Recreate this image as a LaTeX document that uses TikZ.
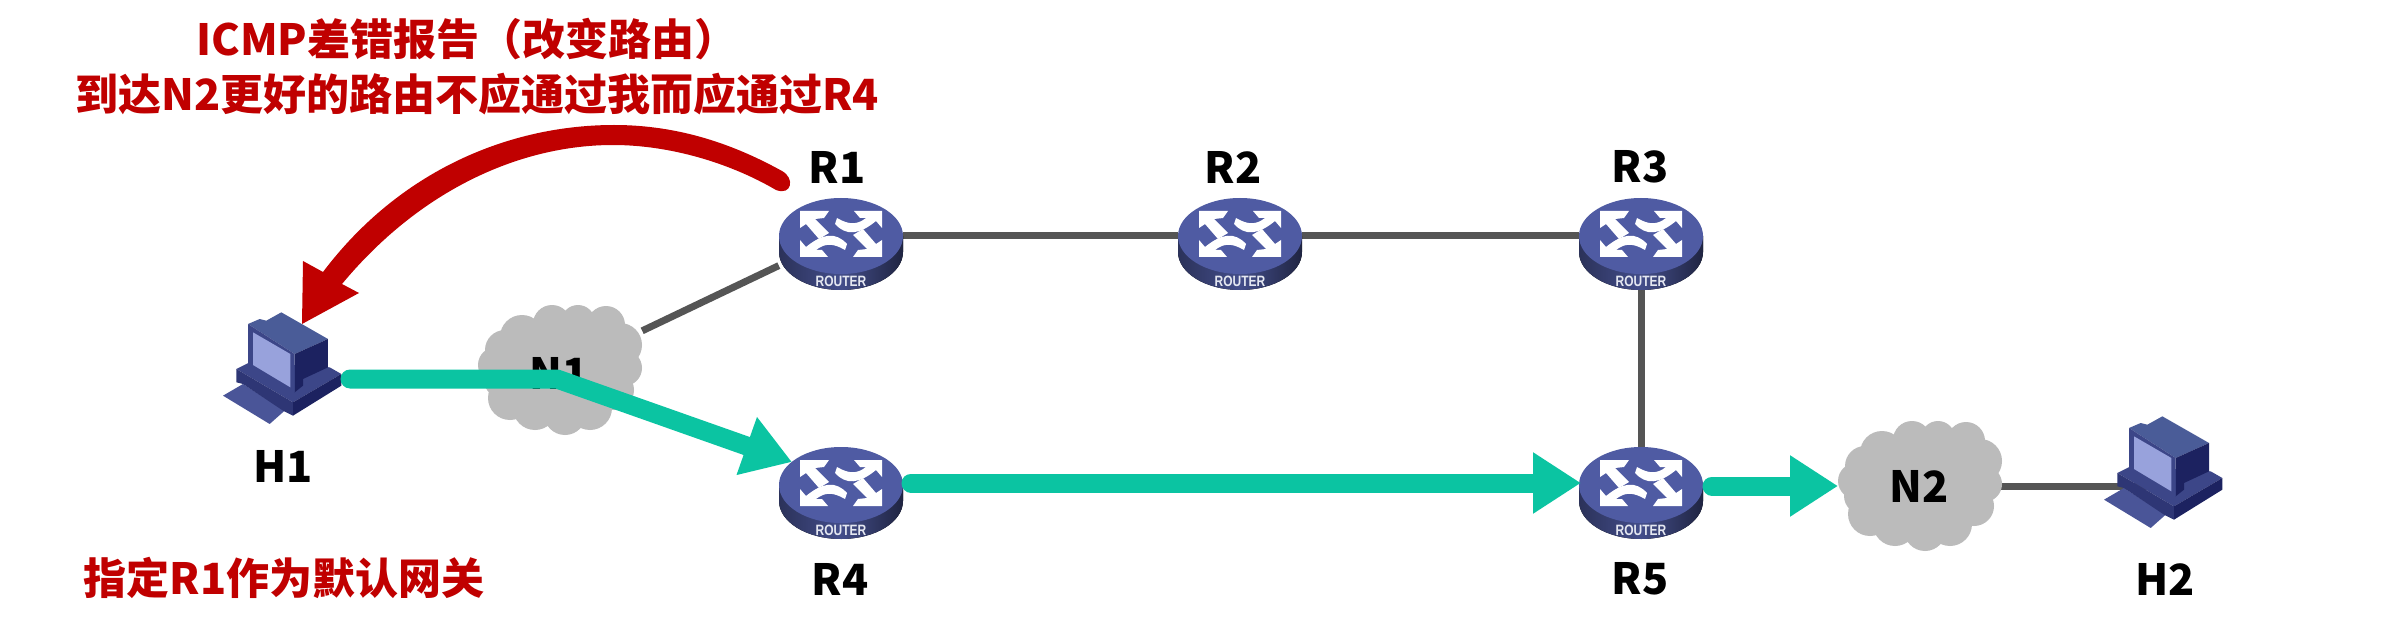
\documentclass[tikz,border=0pt]{standalone}
\usepackage{fontspec}
\setmainfont{Noto Sans CJK SC}
\newfontfamily\routerfont{Liberation Sans}
\usetikzlibrary{arrows.meta}
\definecolor{wire}{HTML}{555555}
\definecolor{flow}{HTML}{0BC4A2}
\definecolor{alert}{HTML}{C00000}
\definecolor{cloudgray}{HTML}{BBBBBB}
\definecolor{rtop}{HTML}{4F5BA3}
\tikzset{
  routerbox/.style={rectangle,inner sep=0pt,minimum width=124pt,minimum height=76pt},
  hostbox/.style={rectangle,inner sep=0pt,minimum width=120pt,minimum height=112pt},
  cloudbox/.style={rectangle,inner sep=0pt,minimum width=164pt,minimum height=130pt},
  devlabel/.style={font=\fontsize{43}{43}\selectfont\bfseries,inner sep=0pt,text=black},
  redlabel/.style={font=\fontsize{43}{43}\selectfont\bfseries,inner sep=0pt,text=alert},
  wireline/.style={draw=wire,line width=7pt},
  flowline/.style={draw=flow,line width=19pt,line cap=round,line join=round,-{Triangle[length=48pt,width=58pt]}},
  router/.pic={
    \fill[left color=rtop!55!black,right color=rtop!40!black,middle color=rtop!85!black]
      (-62,0) -- (-62,16) arc[start angle=180,end angle=0,x radius=62,y radius=38] -- (62,0) -- cycle;
    \fill[rtop] (0,0) ellipse[x radius=62,y radius=38];
    \foreach \r in {0,180}{
      \begin{scope}[rotate around={\r:(0,-2)}]
        \fill[white] (-41,-25) -- (-12,-25) -- (-17,-18) -- (-26,-17) -- (-12,-3) -- (-22,3) -- (-35,-12) -- (-41,-8) -- cycle;
        \fill[white] (41,-25) -- (13,-25) -- (19,-18) -- (25,-18) .. controls (16,-11) and (8,-11) .. (-4,-18) -- (-6,-12) .. controls (5,0) and (18,-1) .. (35,-15) -- (41,-8) -- cycle;
      \end{scope}
    }
    \node[text=white!85!rtop,inner sep=0pt,xscale=.8,font=\routerfont\fontsize{15}{15}\selectfont\bfseries] at (0,45) {ROUTER};
  },
  host/.pic={
    \begin{scope}[x=.3333pt,y=-.3333pt,shift={(-250,-270)}]
      \fill[fill=hostkey] (70,350) -- (130,315) -- (255,395) -- (210,435) -- cycle;
      \fill[fill=hostbase] (110,270) -- (150,250) -- (390,265) -- (425,285) -- (280,370) -- cycle;
      \fill[fill=hostfront] (110,270) -- (280,370) -- (280,410) -- (250,395) -- (130,315) -- (110,310) -- cycle;
      \fill[fill=hostdark] (280,370) -- (425,285) -- (425,320) -- (280,410) -- cycle;
      \fill[fill=hosttop] (145,135) -- (180,120) -- (200,125) -- (245,100) -- (385,180) -- (285,225) -- cycle;
      \fill[fill=hostdark] (285,225) -- (385,180) -- (385,265) -- (310,300) -- (310,320) -- (285,340) -- cycle;
      \fill[fill=hostbase] (145,135) -- (285,225) -- (285,340) -- (145,258) -- cycle;
      \fill[fill=hostscreen] (160,160) -- (272,225) -- (272,325) -- (160,258) -- cycle;
    \end{scope}
  },
  netcloud/.pic={
    \fill[cloudgray] (0,0) ellipse[x radius=68,y radius=52];
    \foreach \a/\b/\c in {-38/-33/22,-8/-46/19,18/-48/17,46/-45/19,60/-25/22,64/-2/18,54/20/20,30/38/22,5/44/21,-25/38/22,-50/28/22,-58/10/18,-64/-5/18,-55/-20/20}
      \fill[cloudgray] (\a,\b) circle[radius=\c];
  }
}
\definecolor{hostkey}{HTML}{4A5598}
\definecolor{hostbase}{HTML}{3C4688}
\definecolor{hostfront}{HTML}{2E3675}
\definecolor{hostdark}{HTML}{1C2260}
\definecolor{hosttop}{HTML}{4A5C98}
\definecolor{hostscreen}{HTML}{98A2DC}
\begin{document}
\begin{tikzpicture}[x=1pt,y=-1pt]
\useasboundingbox (0,0) rectangle (2408,620);
\fill[white] (0,0) rectangle (2408,620);
% anchors
\node[routerbox] (R1) at (841,236) {};
\node[routerbox] (R2) at (1240,236) {};
\node[routerbox] (R3) at (1641,236) {};
\node[routerbox] (R4) at (841,485) {};
\node[routerbox] (R5) at (1641,485) {};
\node[hostbox] (H1) at (283,369) {};
\node[hostbox] (H2) at (2164,473) {};
\node[cloudbox] (C1) at (560,370) {};
\node[cloudbox] (C2) at (1920,486) {};
% wires
\draw[wireline] (R1) -- (R2);
\draw[wireline] (R2) -- (R3);
\draw[wireline] (R3) -- (R5);
\draw[wireline] (R1) -- (C1);
\draw[wireline] (C1) -- (R4);
\draw[wireline] (C2.center) -- (H2.center |- C2.center);
% icons
\foreach \n in {R1,R2,R3,R4,R5} \pic at (\n) {router};
\foreach \n in {H1,H2} \pic at (\n) {host};
\foreach \n in {C1,C2} \pic at (\n) {netcloud};
% labels
\node[devlabel] (N1) at (559,373) {N1};
\node[devlabel] (N2) at (1919,486) {N2};
\node[devlabel] (lR1) at (837,167) {R1};
\node[devlabel] (lR2) at (1233,167) {R2};
\node[devlabel] (lR3) at (1640,167) {R3};
\node[devlabel] (lR4) at (840,579) {R4};
\node[devlabel] (lR5) at (1640,579) {R5};
\node[devlabel] (lH1) at (283,466) {H1};
\node[devlabel] (lH2) at (2165,579) {H2};
\node[redlabel] (t1) at (467,39) {ICMP差错报告（改变路由）};
\node[redlabel] (t2) at (477,94) {到达N2更好的路由不应通过我而应通过R4};
\node[redlabel] (t3) at (284,578) {指定R1作为默认网关};
% flows
\coordinate (fstart) at (350,379);
\coordinate (felbow) at (557,379);
\coordinate (ftip) at (792,462);
\draw[flowline] (fstart) -- (felbow) -- (ftip);
\coordinate (r4out) at (911,483);
\coordinate (r5in) at (1581,483);
\draw[flowline] (r4out) -- (r5in);
\coordinate (r5out) at (1712,486);
\coordinate (c2in) at (1838,486);
\draw[flowline] (r5out) -- (c2in);
% red arrow
\fill[alert] (323,272) .. controls (400,170) and (510,125) .. (614,125)
  .. controls (680,125) and (735,145) .. (782,171)
  .. controls (795,178) and (792,196) .. (776,190)
  .. controls (730,163) and (670,145) .. (613,145)
  .. controls (520,145) and (420,190) .. (342,284)
  -- (359,293) -- (302,324) -- (303,261) -- cycle;
\end{tikzpicture}
\end{document}
